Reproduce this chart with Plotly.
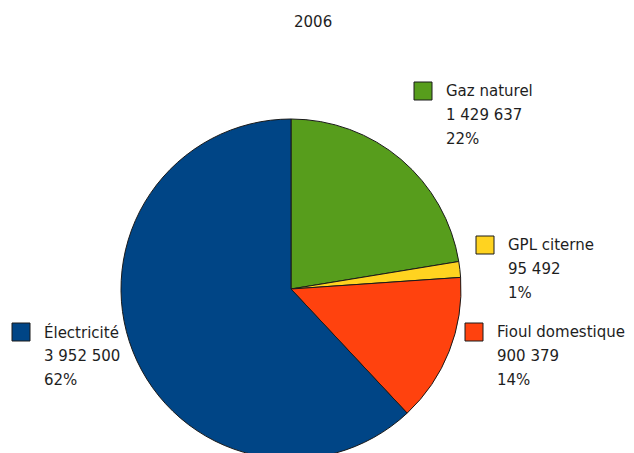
import plotly.graph_objects as go

title = "2006"
labels = ["Gaz naturel", "GPL citerne", "Fioul domestique", "Électricité"]
values = [1429637, 95492, 900379, 3952500]
colors = ["#579D1C", "#FFD320", "#FF420E", "#004586"]

W, H = 634, 453
OFF = 8  # page body margin
total = sum(values)

def fmt(v):
    return f"{v:,}".replace(",", " ")

def px(x):
    return (x - OFF) / W

def py(y):
    return (H - (y - OFF)) / H

fig = go.Figure()
cx, cy, r = 291, 289, 170
fig.add_trace(go.Pie(
    labels=labels, values=values, sort=False, direction="clockwise", rotation=0,
    marker=dict(colors=colors, line=dict(color="#1a1a1a", width=1)),
    textinfo="none", hoverinfo="label+value+percent", showlegend=False,
    domain=dict(x=[px(cx - r), px(cx + r)], y=[py(cy + r), py(cy - r)]),
))

# label block positions (square left x, first line center y) in page pixels
pos = [(414, 91), (476, 245), (465, 332), (12, 332)]
font = dict(family="DejaVu Sans, sans-serif", size=15, color="#1e1e1e")
shapes = []
annotations = []
for lab, v, c, (sx, sy) in zip(labels, values, colors, pos):
    shapes.append(dict(type="rect", xref="paper", yref="paper",
                       x0=px(sx), x1=px(sx + 18), y0=py(sy + 9), y1=py(sy - 9),
                       fillcolor=c, line=dict(color="#1a1a1a", width=1)))
    lines = [lab, fmt(v), f"{round(100 * v / total)}%"]
    for i, t in enumerate(lines):
        annotations.append(dict(text=t, xref="paper", yref="paper",
                                x=px(sx + 30), y=py(sy + 24 * i),
                                xanchor="left", yanchor="middle", showarrow=False, font=font))
annotations.append(dict(text=title, xref="paper", yref="paper", x=px(313), y=py(22),
                        xanchor="center", yanchor="middle", showarrow=False,
                        font=dict(family="DejaVu Sans, sans-serif", size=15, color="#1e1e1e")))

fig.update_layout(width=W, height=H, margin=dict(l=0, r=0, t=0, b=0),
                  paper_bgcolor="white", plot_bgcolor="white",
                  shapes=shapes, annotations=annotations)
fig.write_html("out.html")
